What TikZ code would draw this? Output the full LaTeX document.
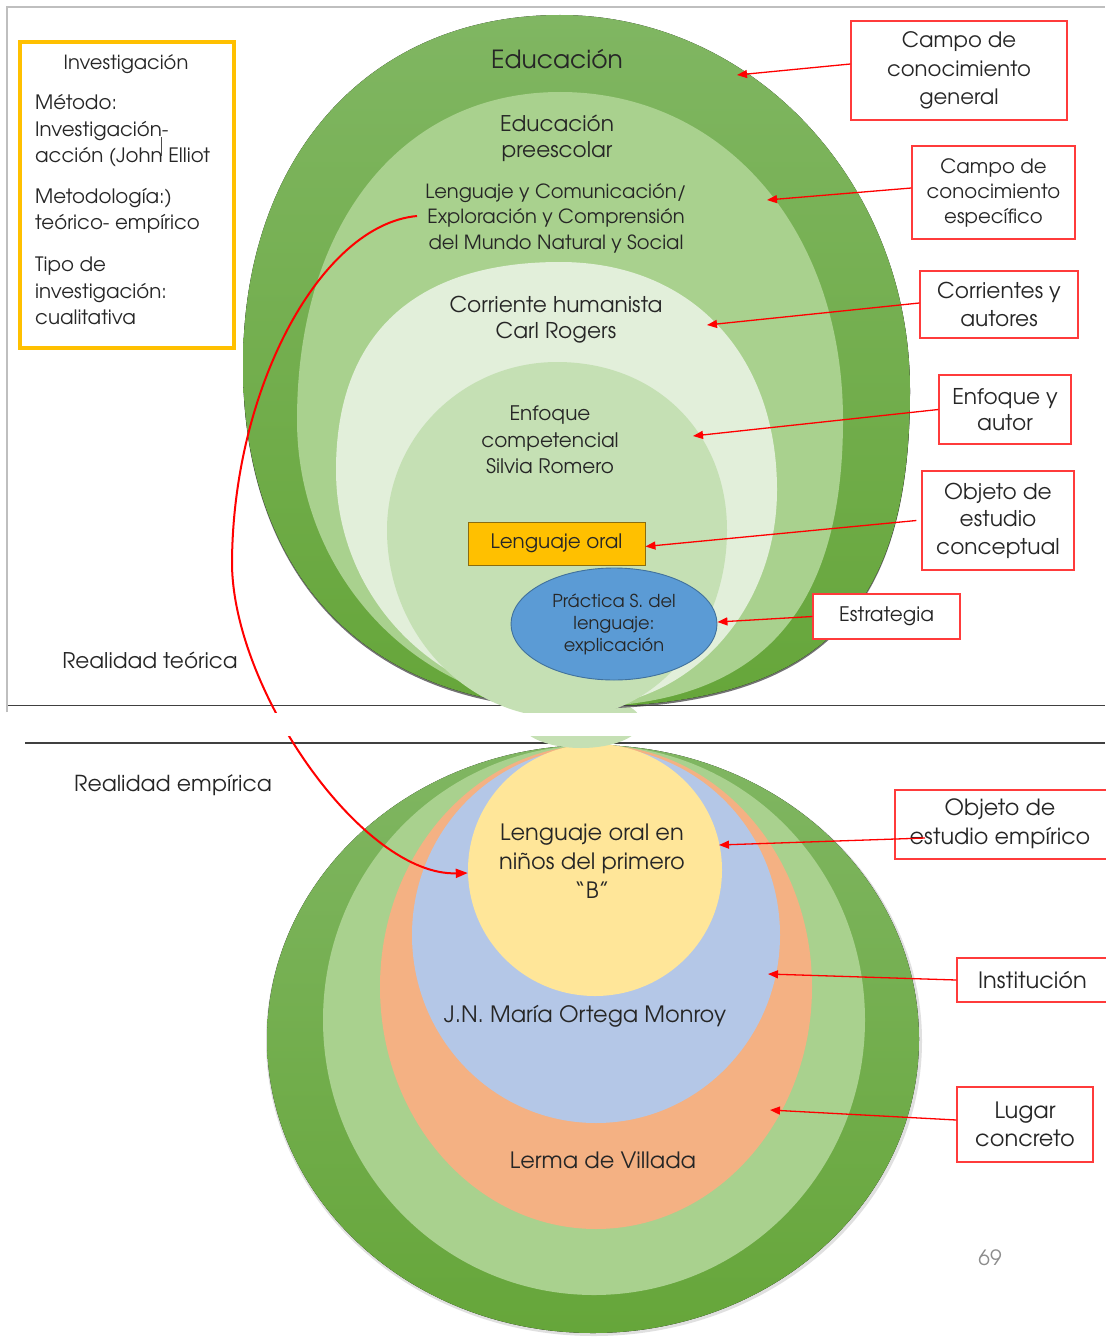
\documentclass[tikz,border=0pt]{standalone}
\usepackage{fontspec}
\setmainfont{texgyreadventor}[Extension=.otf,UprightFont=*-regular,BoldFont=*-bold,ItalicFont=*-italic,BoldItalicFont=*-bolditalic]
\usetikzlibrary{arrows.meta,shapes.geometric}
\definecolor{dgA}{HTML}{80B662}
\definecolor{dgB}{HTML}{66A63A}
\definecolor{lg}{HTML}{A9D18E}
\definecolor{vlg}{HTML}{E2EFDA}
\definecolor{pg}{HTML}{C5E0B4}
\definecolor{bl}{HTML}{5B9BD5}
\definecolor{blD}{HTML}{41719C}
\definecolor{gold}{HTML}{FFC000}
\definecolor{goldD}{HTML}{8A6D10}
\definecolor{orng}{HTML}{F4B183}
\definecolor{lbl}{HTML}{B4C7E7}
\definecolor{ylw}{HTML}{FFE699}
\definecolor{rd}{HTML}{FF0000}
\definecolor{bxr}{HTML}{FF3B3B}
\definecolor{tx}{HTML}{262626}
\newcommand\myfs[2]{\fontsize{#1}{#2}\selectfont}
\begin{document}
\begin{tikzpicture}[x=1pt,y=-1pt,
  txt/.style={text=tx,align=center,inner sep=0pt},
  ltxt/.style={text=tx,align=left,inner sep=0pt,anchor=west},
  lbox/.style={draw=bxr,line width=1.3pt,fill=white,inner sep=0pt},
  redarr/.style={draw=rd,line width=1.3pt,-{Triangle[length=10pt,width=8pt]}},
  slideline/.style={draw=black!75,line width=1.5pt}
]
\useasboundingbox (0,0) rectangle (1105,1343);
\fill[white] (0,0) rectangle (1105,1343);

% ---------------- lower slide ----------------
\draw[slideline] (25,743) -- (1105,743);
\fill[black!12] (594,1041) ellipse [x radius=328,y radius=295];
\fill[top color=dgA,bottom color=dgB] (593,1039) ellipse [x radius=326,y radius=294];
\fill[lg] (594,1020) ellipse [x radius=271,y radius=275];
\fill[orng] (596,987) ellipse [x radius=216,y radius=242];
\fill[lbl] (596,935) ellipse [x radius=184,y radius=188];
\node[ellipse,fill=ylw,minimum width=254pt,minimum height=252pt,inner sep=0pt] (yc) at (595,870) {};
\node[txt,font=\myfs{22.5}{29}] (yctext) at (592,861) {Lenguaje oral en\\niños del primero\\“B”};
\node[txt,font=\myfs{22.5}{26}] (inst) at (585,1016) {J.N. María Ortega Monroy};
\node[txt,font=\myfs{22.5}{26}] (lerma) at (603,1160) {Lerma de Villada};
\node[txt,font=\myfs{22}{26}] (remp) at (173,785) {Realidad empírica};
\node[inner sep=0pt,text=black!45,font=\myfs{21}{24}] (pgnum) at (990,1258) {69};
\fill[pg] (581,722) ellipse [x radius=60,y radius=26];

% ---------------- upper slide ----------------
\fill[black!55,shift={(0,2)}] (560,15) .. controls (753,15) and (910,183) .. (910,390) .. controls (910,618) and (816,707) .. (575,707) .. controls (369,707) and (243,577) .. (243,365) .. controls (243,155) and (370,15) .. cycle;
\fill[top color=dgA,bottom color=dgB] (560,15) .. controls (753,15) and (910,183) .. (910,390) .. controls (910,618) and (816,707) .. (575,707) .. controls (369,707) and (243,577) .. (243,365) .. controls (243,155) and (370,15) .. cycle;
\fill[lg] (560,92) .. controls (724,92) and (843,230) .. (843,420) .. controls (843,615) and (757,707) .. (575,707) .. controls (421.5,707) and (297,578.5) .. (297,420) .. controls (297,223) and (402,92) .. cycle;
\fill[vlg] (560,262) .. controls (690,262) and (777,353) .. (777,490) .. controls (777,610) and (689,707) .. (580,707) .. controls (443,707) and (336,603) .. (336,470) .. controls (336,335) and (414,262) .. cycle;
\draw[slideline] (8,705.5) -- (1105,705.5);
\fill[pg] (557,362) .. controls (656,362) and (727,432.6) .. (727,530) .. controls (727,634) and (654.5,718) .. (565,718) .. controls (466.7,718) and (387,634) .. (387,530) .. controls (387,437) and (463,362) .. cycle;
\draw[draw=black!25,line width=1.5pt] (7,712) -- (7,7) -- (1105,7);

% texts in circles
\node[txt,font=\myfs{25}{28}] (edu) at (557,59) {Educación};
\node[txt,font=\myfs{21.6}{26}] (pre) at (557,138) {Educación\\preescolar};
\node[txt,font=\myfs{19.5}{25.5}] (lyc) at (556,218) {Lenguaje y Comunicación/\\Exploración y Comprensión\\del Mundo Natural y Social};
\node[txt,font=\myfs{21.7}{26}] (hum) at (556,320) {Corriente humanista\\Carl Rogers};
\node[txt,font=\myfs{20}{26.5}] (enf) at (550,440) {Enfoque\\competencial\\Silvia Romero};
\node[draw=goldD,line width=0.9pt,fill=gold,minimum width=177pt,minimum height=43pt,inner sep=0pt,text=tx,font=\myfs{19.9}{24}] (lo) at (556.5,543.5) {Lenguaje oral};
\node[ellipse,draw=blD,line width=0.9pt,fill=bl,minimum width=206pt,minimum height=112pt,inner sep=0pt,text=tx,align=center,font=\myfs{17.8}{22}] (ps) at (614,624) {Práctica S. del\\lenguaje:\\explicación};
\node[txt,font=\myfs{21.6}{26}] (rteo) at (150,660) {Realidad teórica};

% left box
\draw[draw=gold,line width=3.5pt] (20,42) rectangle (234,348);
\node[txt,font=\myfs{19.5}{26.5}] (inv) at (126,64) {Investigación};
\node[ltxt,font=\myfs{19.8}{26.5}] (met) at (35,131) {Método:\\Investigación-\\acción (John Elliot};
\node[ltxt,font=\myfs{19.8}{26.5}] (metod) at (35,211) {Metodología:)\\teórico- empírico};
\node[ltxt,font=\myfs{19.8}{26.5}] (tipo) at (35,291) {Tipo de\\investigación:\\cualitativa};
\draw[black!70,line width=0.8pt] (161,137) -- (161,156);

% red curve
\coordinate (cs) at (417,216);
\draw[draw=rd,line width=2pt,-{Triangle[length=12pt,width=9pt]}] (cs) .. controls (320,225) and (232,390) .. (232,565) .. controls (234,692) and (363,876) .. ([yshift=-3pt]yc.west);

% band between slides
\fill[white] (0,713) rectangle (1105,736);

% label boxes (upper)
\node[lbox,minimum width=216pt,minimum height=99pt,align=center,text=tx,font=\myfs{21.2}{28.5}] (b1) at (959,70.5) {Campo de\\conocimiento\\general};
\node[lbox,minimum width=163pt,minimum height=93pt,align=center,text=tx,font=\myfs{19.7}{25}] (b2) at (993.5,192.5) {Campo de\\conocimiento\\específico};
\node[lbox,minimum width=158pt,minimum height=67pt,align=center,text=tx,font=\myfs{21.7}{28}] (b3) at (999,304.5) {Corrientes y\\autores};
\node[lbox,minimum width=132pt,minimum height=69pt,align=center,text=tx,font=\myfs{21.7}{26}] (b4) at (1005,409.5) {Enfoque y\\autor};
\node[lbox,minimum width=152pt,minimum height=99pt,align=center,text=tx,font=\myfs{21.7}{27.5}] (b5) at (998,520.5) {Objeto de\\estudio\\conceptual};
\node[lbox,minimum width=147pt,minimum height=45pt,align=center,text=tx,font=\myfs{20}{24}] (b6) at (886.5,616.5) {Estrategia};

% label boxes (lower)
\node[lbox,minimum width=225pt,minimum height=69pt] (b7) at (1007.5,824.5) {};
\node[txt,font=\myfs{22.3}{29}] (b7t) at (1000,823.5) {Objeto de\\estudio empírico};
\node[lbox,minimum width=151pt,minimum height=44pt,text=tx,font=\myfs{22.5}{26}] (b8) at (1032.5,980) {Institución};
\node[lbox,minimum width=136pt,minimum height=75pt,align=center,text=tx,font=\myfs{22.5}{28}] (b9) at (1025,1124.5) {Lugar\\concreto};

% arrow targets
\coordinate (t1) at (737,75);
\coordinate (t2) at (767,200);
\coordinate (t3) at (707,325);
\coordinate (t4) at (693,436);
\coordinate (s7) at (925,838);
\coordinate (t7) at (719,845);
\coordinate (t8) at (768,974);
\coordinate (t9) at (770,1110);

\draw[redarr] ([yshift=6.5pt]b1.west) -- (t1);
\draw[redarr] ([yshift=4.5pt]b2.west) -- (t2);
\draw[redarr] ([yshift=1.5pt]b3.west) -- (t3);
\draw[redarr] (b4.west) -- (t4);
\draw[redarr] ([xshift=-5pt]b5.west) -- ([yshift=-3pt]lo.east);
\draw[redarr] (b6.west) -- ([yshift=2pt]ps.east);
\draw[redarr] (s7) -- (t7);
\draw[redarr] (b8.west) -- (t8);
\draw[redarr] ([yshift=4.5pt]b9.west) -- (t9);
\end{tikzpicture}
\end{document}
